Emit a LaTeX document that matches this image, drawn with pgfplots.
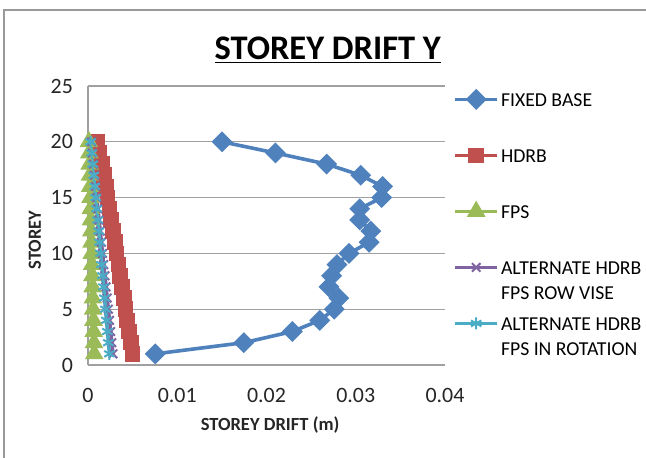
\documentclass[border=0pt]{standalone}
\usepackage{fontspec}
\setmainfont{Carlito}
\usepackage{pgfplots}
\pgfplotsset{compat=1.18}
\definecolor{cblue}{HTML}{4F81BD}
\definecolor{cred}{HTML}{C0504D}
\definecolor{cgreen}{HTML}{9BBB59}
\definecolor{cpurple}{HTML}{8064A2}
\definecolor{ccyan}{HTML}{4BACC6}
\definecolor{gridgray}{HTML}{A0A0A0}
\newcommand\twoline[2]{\parbox[t]{80bp}{#1\\#2}}
\begin{document}
\begin{tikzpicture}
\path[use as bounding box] (0,0) rectangle (323bp,229bp);
\draw[gray!80, line width=1bp] (2bp,0) -- (2bp,224bp) -- (323bp,224bp);
\begin{axis}[
  at={(44bp,46.5bp)}, anchor=south west,
  scale only axis, width=178.5bp, height=139.5bp,
  xmin=0, xmax=0.04, ymin=0, ymax=25,
  xtick={0,0.01,0.02,0.03,0.04}, ytick={0,5,10,15,20,25},
  scaled x ticks=false,
  /pgf/number format/fixed, /pgf/number format/precision=2,
  /pgf/number format/assume math mode=true,
  axis x line*=bottom, axis y line*=left,
  axis line style={gridgray, line width=0.6bp, -},
  major tick length=0pt,
  ymajorgrids, major grid style={gridgray, line width=0.6bp},
  tick label style={font=\fontsize{11}{13}\selectfont, text=black!85},
  yticklabel style={xshift=-4bp},
  xticklabel style={yshift=-8bp},
  xlabel={\textbf{STOREY DRIFT (m)}},
  ylabel={\textbf{STOREY}},
  label style={font=\fontsize{9.3}{11}\selectfont, text=black!85},
  xlabel style={at={(axis description cs:0.51,-0.215)}, anchor=center},
  ylabel style={at={(axis description cs:-0.1485,0.448)}, anchor=center},
  title={\underline{\textbf{STOREY DRIFT Y}}},
  title style={font=\fontsize{17.3}{19}\selectfont, at={(axis description cs:0.672,1.133)}, anchor=center, yshift=-6.5bp},
  legend cell align=left,
  legend style={at={(axis description cs:1,1)}, anchor=north west, xshift=4bp, yshift=-2bp,
    draw=none, fill=none, inner sep=0pt, row sep=19bp,
    font=\fontsize{9.9}{12.8}\selectfont,
    nodes={text height=7bp, text depth=0bp, inner sep=1bp}},
  legend image code/.code={\draw[mark repeat=2, mark phase=2] plot coordinates {(0bp,0bp) (10.5bp,0bp) (21bp,0bp)};},
  clip=false,
]
\addplot[cblue, line width=1.8bp, mark=square*, mark options={rotate=45, scale=1}, mark size=2.8bp] coordinates {
(0.00753,1) (0.01746,2) (0.0229,3) (0.02596,4) (0.0276,5) (0.0281,6) (0.0270,7) (0.0273,8) (0.0279,9) (0.02925,10)
(0.0315,11) (0.03169,12) (0.03045,13) (0.03045,14) (0.0329,15) (0.0330,16) (0.03056,17) (0.02674,18) (0.0210,19) (0.01502,20)};
\addlegendentry{FIXED BASE}
\addplot[cred, line width=1.8bp, mark=square*, mark size=3bp] coordinates {
(0.0050,1) (0.0048,2) (0.0046,3) (0.0044,4) (0.0042,5) (0.0040,6) (0.0038,7) (0.0036,8) (0.0034,9) (0.0032,10)
(0.0030,11) (0.0028,12) (0.0026,13) (0.0024,14) (0.0022,15) (0.0020,16) (0.0018,17) (0.0016,18) (0.0013,19) (0.0010,20)};
\addlegendentry{HDRB}
\addplot[cgreen, line width=1.8bp, mark=triangle*, mark size=3.6bp] coordinates {
(0.00070,1) (0.00067,2) (0.00064,3) (0.00061,4) (0.00058,5) (0.00055,6) (0.00052,7) (0.00049,8) (0.00046,9) (0.00043,10)
(0.00040,11) (0.00037,12) (0.00034,13) (0.00031,14) (0.00028,15) (0.00025,16) (0.00022,17) (0.00019,18) (0.00015,19) (0.00010,20)};
\addlegendentry{FPS}
\addplot[cpurple, line width=1.8bp, mark=x, mark size=3bp, mark options={line width=1bp}] coordinates {
(0.0028,1) (0.00267,2) (0.00254,3) (0.00241,4) (0.00228,5) (0.00215,6) (0.00202,7) (0.00189,8) (0.00176,9) (0.00163,10)
(0.00150,11) (0.00137,12) (0.00124,13) (0.00111,14) (0.00098,15) (0.00085,16) (0.00072,17) (0.00059,18) (0.00048,19) (0.0004,20)};
\addlegendentry{\twoline{ALTERNATE HDRB}{FPS ROW VISE}}
\addplot[ccyan, line width=1.8bp, mark=asterisk, mark size=3bp, mark options={line width=1bp}] coordinates {
(0.0024,1) (0.00229,2) (0.00218,3) (0.00207,4) (0.00196,5) (0.00185,6) (0.00174,7) (0.00163,8) (0.00152,9) (0.00141,10)
(0.00130,11) (0.00119,12) (0.00108,13) (0.00097,14) (0.00086,15) (0.00075,16) (0.00064,17) (0.00053,18) (0.00042,19) (0.0003,20)};
\addlegendentry{\twoline{ALTERNATE HDRB}{FPS IN ROTATION}}
\end{axis}
\end{tikzpicture}
\end{document}
